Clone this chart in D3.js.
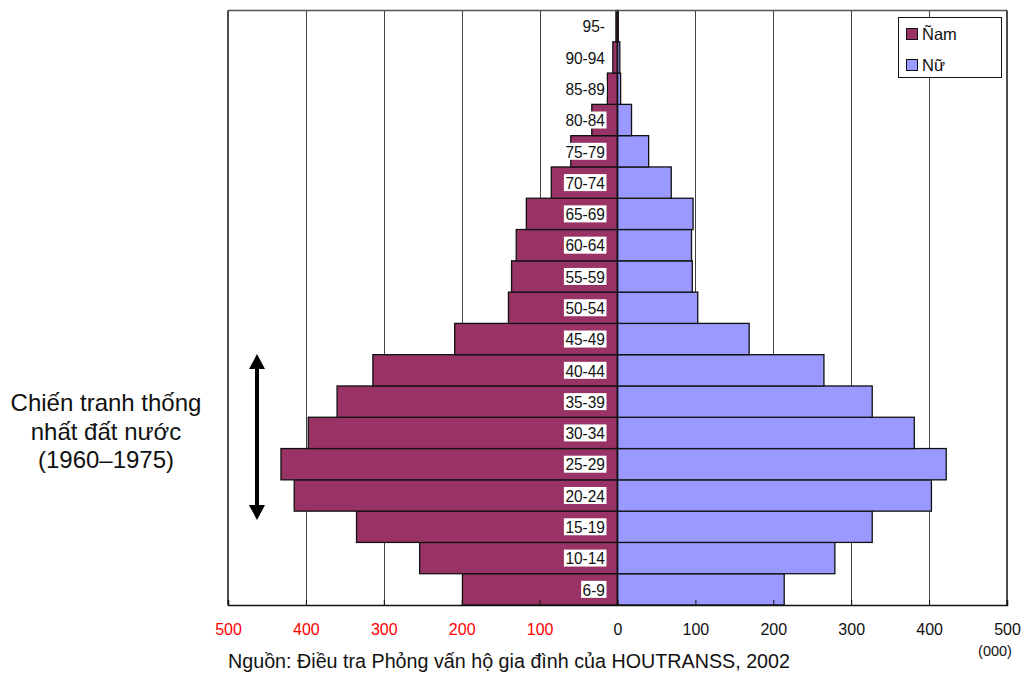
<!DOCTYPE html>
<html>
<head>
<meta charset="utf-8">
<script src="https://d3js.org/d3.v7.min.js"></script>
<style>
  body { margin: 0; background: #fff; }
  svg { display: block; font-family: "Liberation Sans", Arial, sans-serif; }
</style>
</head>
<body>
<svg id="chart" width="1024" height="673"></svg>
<script>
// Age groups, bottom to top
const ageGroups = ["6-9","10-14","15-19","20-24","25-29","30-34","35-39","40-44","45-49","50-54","55-59","60-64","65-69","70-74","75-79","80-84","85-89","90-94","95-"];
// Population (thousands)
const maleValues   = [199, 254, 335, 415, 432, 397, 360, 314, 209, 140, 136, 130, 117, 85, 60, 33, 13, 6, 2];
const femaleValues = [214, 279, 327, 403, 422, 381, 327, 265, 169, 103, 96, 95, 97, 69, 40, 18, 4, 3, 1];
const tickValues = [-500, -400, -300, -200, -100, 0, 100, 200, 300, 400, 500];
const legendLabels = ["Ñam", "Nữ"];
const seriesColors = ["#993366", "#9999FF"];

(function () {
const svg = d3.select("#chart");
const pLeft = 228, pRight = 1007, pTop = 10.5, pBottom = 605;

const x = d3.scaleLinear().domain([-500, 500]).range([pLeft, pRight]);
const y = d3.scaleBand().domain(ageGroups).range([pBottom, pTop]).paddingInner(0).paddingOuter(0);

// gridlines
svg.append("g").selectAll("line")
  .data(tickValues.filter(v => Math.abs(v) !== 500 && v !== 0))
  .join("line")
  .attr("x1", d => Math.round(x(d)) + 0.5).attr("x2", d => Math.round(x(d)) + 0.5)
  .attr("y1", pTop).attr("y2", pBottom)
  .attr("stroke", "#444").attr("stroke-width", 1);

const data = ageGroups.map((g, i) => ({ g, m: maleValues[i], f: femaleValues[i] }));

// male bars
svg.append("g").selectAll("rect")
  .data(data).join("rect")
  .attr("x", d => x(-d.m)).attr("width", d => x(0) - x(-d.m))
  .attr("y", d => y(d.g)).attr("height", y.bandwidth())
  .attr("fill", seriesColors[0]).attr("stroke", "#111").attr("stroke-width", 1.3);

// female bars
svg.append("g").selectAll("rect")
  .data(data).join("rect")
  .attr("x", x(0)).attr("width", d => x(d.f) - x(0))
  .attr("y", d => y(d.g)).attr("height", y.bandwidth())
  .attr("fill", seriesColors[1]).attr("stroke", "#111").attr("stroke-width", 1.3);

// zero line
svg.append("line")
  .attr("x1", x(0)).attr("x2", x(0)).attr("y1", pTop).attr("y2", pBottom)
  .attr("stroke", "#111").attr("stroke-width", 1.5);

// plot frame
svg.append("line").attr("x1", pLeft).attr("x2", pRight).attr("y1", pTop).attr("y2", pTop)
  .attr("stroke", "#555").attr("stroke-width", 1.5);
svg.append("line").attr("x1", pLeft).attr("x2", pLeft).attr("y1", pTop).attr("y2", pBottom)
  .attr("stroke", "#111").attr("stroke-width", 1.5);
svg.append("line").attr("x1", pRight).attr("x2", pRight).attr("y1", pTop).attr("y2", pBottom)
  .attr("stroke", "#111").attr("stroke-width", 1.5);

// bottom axis
const axis = d3.axisBottom(x).tickValues(tickValues).tickSize(-5).tickPadding(19)
  .tickFormat(d => Math.abs(d));
const ag = svg.append("g").attr("transform", `translate(0,${pBottom})`).call(axis);
ag.select(".domain").attr("stroke", "#111").attr("stroke-width", 1.5);
ag.selectAll(".tick line").attr("stroke", "#111");
ag.selectAll(".tick text")
  .attr("font-size", 16).attr("font-family", "Liberation Sans, Arial, sans-serif")
  .attr("fill", d => d < 0 ? "#ff0000" : "#111");

// age labels with white background
const lg = svg.append("g");
data.forEach(d => {
  const cy = y(d.g) + y.bandwidth() / 2;
  const t = lg.append("text")
    .attr("x", 605).attr("y", 0).attr("dy", "0.36em")
    .attr("transform", `translate(0,${cy}) scale(1,1.12)`)
    .attr("text-anchor", "end").attr("font-size", 15.5).attr("fill", "#111")
    .text(d.g);
  const bb = t.node().getBBox();
  lg.insert("rect", "text")
    .attr("x", bb.x - 1.5).attr("y", cy - 8.5).attr("width", bb.width + 3).attr("height", 17)
    .attr("fill", "#fff");
});

// legend
const leg = svg.append("g");
leg.append("rect").attr("x", 898.5).attr("y", 17.5).attr("width", 103).attr("height", 60)
  .attr("fill", "#fff").attr("stroke", "#111").attr("stroke-width", 1);
legendLabels.forEach((l, i) => {
  const yy = 28 + i * 31;
  leg.append("rect").attr("x", 906.5).attr("y", yy + 0.5).attr("width", 11).attr("height", 11)
    .attr("fill", seriesColors[i]).attr("stroke", "#111").attr("stroke-width", 1);
  leg.append("text").attr("x", 922).attr("y", yy + 12)
    .attr("font-size", 16.5).attr("fill", "#111").text(l);
});

// annotation
const ann = svg.append("text").attr("text-anchor", "middle").attr("font-size", 24).attr("fill", "#111");
["Chiến tranh thống", "nhất đất nước", "(1960–1975)"].forEach((s, i) => {
  ann.append("tspan").attr("x", 106).attr("y", [411, 440, 468][i]).text(s);
});

// double arrow
const ax = 257, ay1 = 354, ay2 = 520;
svg.append("line").attr("x1", ax).attr("x2", ax).attr("y1", ay1 + 12).attr("y2", ay2 - 12)
  .attr("stroke", "#000").attr("stroke-width", 4);
svg.append("path").attr("d", `M${ax},${ay1} L${ax - 8},${ay1 + 15} L${ax + 8},${ay1 + 15} Z`).attr("fill", "#000");
svg.append("path").attr("d", `M${ax},${ay2} L${ax - 8},${ay2 - 15} L${ax + 8},${ay2 - 15} Z`).attr("fill", "#000");

// source & unit
svg.append("text").attr("x", 228).attr("y", 668).attr("font-size", 20.5).attr("fill", "#111")
  .attr("textLength", 562).attr("lengthAdjust", "spacingAndGlyphs")
  .text("Nguồn: Điều tra Phỏng vấn hộ gia đình của HOUTRANSS, 2002");
svg.append("text").attr("x", 995).attr("y", 656).attr("text-anchor", "middle")
  .attr("font-size", 14.5).attr("fill", "#111").text("(000)");
})();
</script>
</body>
</html>
